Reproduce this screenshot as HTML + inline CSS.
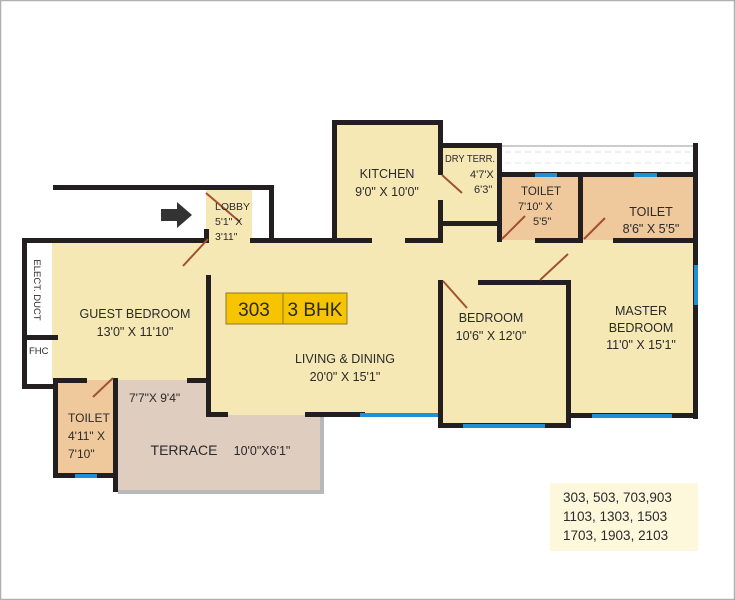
<!DOCTYPE html>
<html><head><meta charset="utf-8"><style>
html,body{margin:0;padding:0;background:#fff}
svg{display:block}
text{font-family:"Liberation Sans",sans-serif;fill:#2a2a2a}
</style></head><body>
<svg width="735" height="600" viewBox="0 0 735 600" xmlns="http://www.w3.org/2000/svg">
<rect x="0.5" y="0.5" width="734" height="599" fill="#fff" stroke="#b0b0b0" stroke-width="1.5"/>
<g fill="#f6e8b5">
<rect x="206" y="190" width="46" height="55"/>
<rect x="52" y="240" width="160" height="140"/>
<rect x="206" y="240" width="236" height="175"/>
<rect x="335" y="122" width="106" height="122"/>
<rect x="441" y="145" width="58" height="100"/>
<rect x="440" y="240" width="258" height="42"/>
<rect x="440" y="282" width="130" height="145"/>
<rect x="568" y="240" width="128" height="176"/>
</g>
<g fill="#efc99b">
<rect x="56" y="380" width="60" height="96"/>
<rect x="500" y="175" width="80" height="65"/>
<rect x="581" y="175" width="115" height="65"/>
</g>
<path d="M118 380 H210 V415 H322 V490 H118 Z" fill="#dfcdbf"/>
<path d="M322 415 V492 H118" fill="none" stroke="#b8b8b8" stroke-width="4"/>
<rect x="500" y="146" width="196" height="27" fill="#fff" stroke="#999" stroke-width="1"/>
<line x1="505" y1="152" x2="690" y2="152" stroke="#ddd" stroke-dasharray="6 4"/>
<line x1="505" y1="163" x2="690" y2="163" stroke="#e6e6e6" stroke-dasharray="6 4"/>
<g fill="#231f20">
<rect x="53" y="185" width="221" height="5"/>
<rect x="269" y="185" width="5" height="57"/>
<rect x="250" y="238" width="88" height="5"/>
<rect x="22" y="238" width="186" height="5"/>
<rect x="22" y="238" width="5" height="150"/>
<rect x="22" y="384" width="33" height="5"/>
<rect x="22" y="335" width="36" height="5"/>
<rect x="204" y="229" width="5" height="14"/>
<rect x="206" y="275" width="5" height="142"/>
<rect x="206" y="412" width="22" height="5"/>
<rect x="53" y="378" width="34" height="5"/>
<rect x="53" y="378" width="5" height="100"/>
<rect x="53" y="473" width="65" height="5"/>
<rect x="113" y="378" width="5" height="114"/>
<rect x="187" y="378" width="24" height="5"/>
<rect x="305" y="412" width="60" height="5"/>
<rect x="332" y="120" width="111" height="5"/>
<rect x="332" y="120" width="5" height="122"/>
<rect x="438" y="120" width="5" height="55"/>
<rect x="438" y="200" width="5" height="42"/>
<rect x="332" y="238" width="40" height="5"/>
<rect x="405" y="238" width="38" height="5"/>
<rect x="438" y="143" width="64" height="5"/>
<rect x="497" y="143" width="5" height="99"/>
<rect x="441" y="221" width="60" height="5"/>
<rect x="500" y="172" width="198" height="5"/>
<rect x="578" y="172" width="5" height="70"/>
<rect x="535" y="238" width="48" height="5"/>
<rect x="613" y="238" width="85" height="5"/>
<rect x="693" y="143" width="5" height="276"/>
<rect x="570" y="413" width="128" height="5"/>
<rect x="478" y="280" width="93" height="5"/>
<rect x="438" y="280" width="5" height="148"/>
<rect x="566" y="280" width="5" height="148"/>
<rect x="438" y="423" width="133" height="5"/>
</g>
<g fill="#1f8fd6">
<rect x="360" y="413" width="78" height="4"/>
<rect x="463" y="424" width="82" height="4"/>
<rect x="592" y="414" width="80" height="4"/>
<rect x="694" y="265" width="4" height="40"/>
<rect x="535" y="173" width="22" height="4"/>
<rect x="634" y="173" width="23" height="4"/>
<rect x="75" y="474" width="22" height="4"/>
</g>
<g stroke="#a0522d" stroke-width="2">
<line x1="206" y1="193" x2="240" y2="222"/>
<line x1="208" y1="239" x2="183" y2="266"/>
<line x1="113" y1="378" x2="93" y2="397"/>
<line x1="442" y1="175" x2="462" y2="193"/>
<line x1="502" y1="239" x2="525" y2="216"/>
<line x1="584" y1="239" x2="605" y2="218"/>
<line x1="540" y1="280" x2="568" y2="254"/>
<line x1="443" y1="281" x2="467" y2="308"/>
</g>
<path d="M161 209 H177 V202 L192 215 L177 228 V221 H161 Z" fill="#333"/>
<rect x="226" y="293" width="121" height="31" fill="#f6c400" stroke="#8a7a30" stroke-width="1"/>
<line x1="283" y1="293" x2="283" y2="324" stroke="#8a7a30"/>
<text x="254" y="316" font-size="19" text-anchor="middle">303</text>
<text x="315" y="316" font-size="19" text-anchor="middle">3 BHK</text>
<rect x="550" y="483" width="148" height="68" fill="#fdf8dc"/>
<g font-size="13.5">
<text x="563" y="502">303, 503, 703,903</text>
<text x="563" y="521">1103, 1303, 1503</text>
<text x="563" y="540">1703, 1903, 2103</text>
</g>
<g font-size="12.5" text-anchor="middle">
<text x="135" y="318">GUEST BEDROOM</text>
<text x="135" y="336">13'0" X 11'10"</text>
<text x="345" y="363">LIVING &amp; DINING</text>
<text x="345" y="381">20'0" X 15'1"</text>
<text x="387" y="178">KITCHEN</text>
<text x="387" y="196">9'0" X 10'0"</text>
<text x="491" y="322">BEDROOM</text>
<text x="491" y="340">10'6" X 12'0"</text>
<text x="641" y="315">MASTER</text>
<text x="641" y="332">BEDROOM</text>
<text x="641" y="349">11'0" X 15'1"</text>
<text x="651" y="216">TOILET</text>
<text x="651" y="233">8'6" X 5'5"</text>
<text x="184" y="455" font-size="14">TERRACE</text>
<text x="262" y="455">10'0"X6'1"</text>
</g>
<g font-size="11.5">
<text x="521" y="195">TOILET</text>
<text x="518" y="210" font-size="11">7'10" X</text>
<text x="533" y="225" font-size="11">5'5"</text>
<text x="445" y="162" font-size="10.5" textLength="50" lengthAdjust="spacingAndGlyphs">DRY TERR.</text>
<text x="470" y="178" font-size="11">4'7'X</text>
<text x="474" y="193" font-size="11">6'3"</text>
<text x="215" y="210" font-size="10.5">LOBBY</text>
<text x="215" y="225" font-size="10.5">5'1" X</text>
<text x="215" y="240" font-size="10.5">3'11"</text>
<text x="129" y="402" font-size="12">7'7"X 9'4"</text>
<text x="68" y="422" font-size="12">TOILET</text>
<text x="68" y="440" font-size="12">4'11" X</text>
<text x="68" y="458" font-size="12">7'10"</text>
<text x="29" y="354" font-size="9.5">FHC</text>
<text x="34" y="290" font-size="9.5" transform="rotate(90 34 290)" text-anchor="middle">ELECT. DUCT</text>
</g>
</svg>
</body></html>
